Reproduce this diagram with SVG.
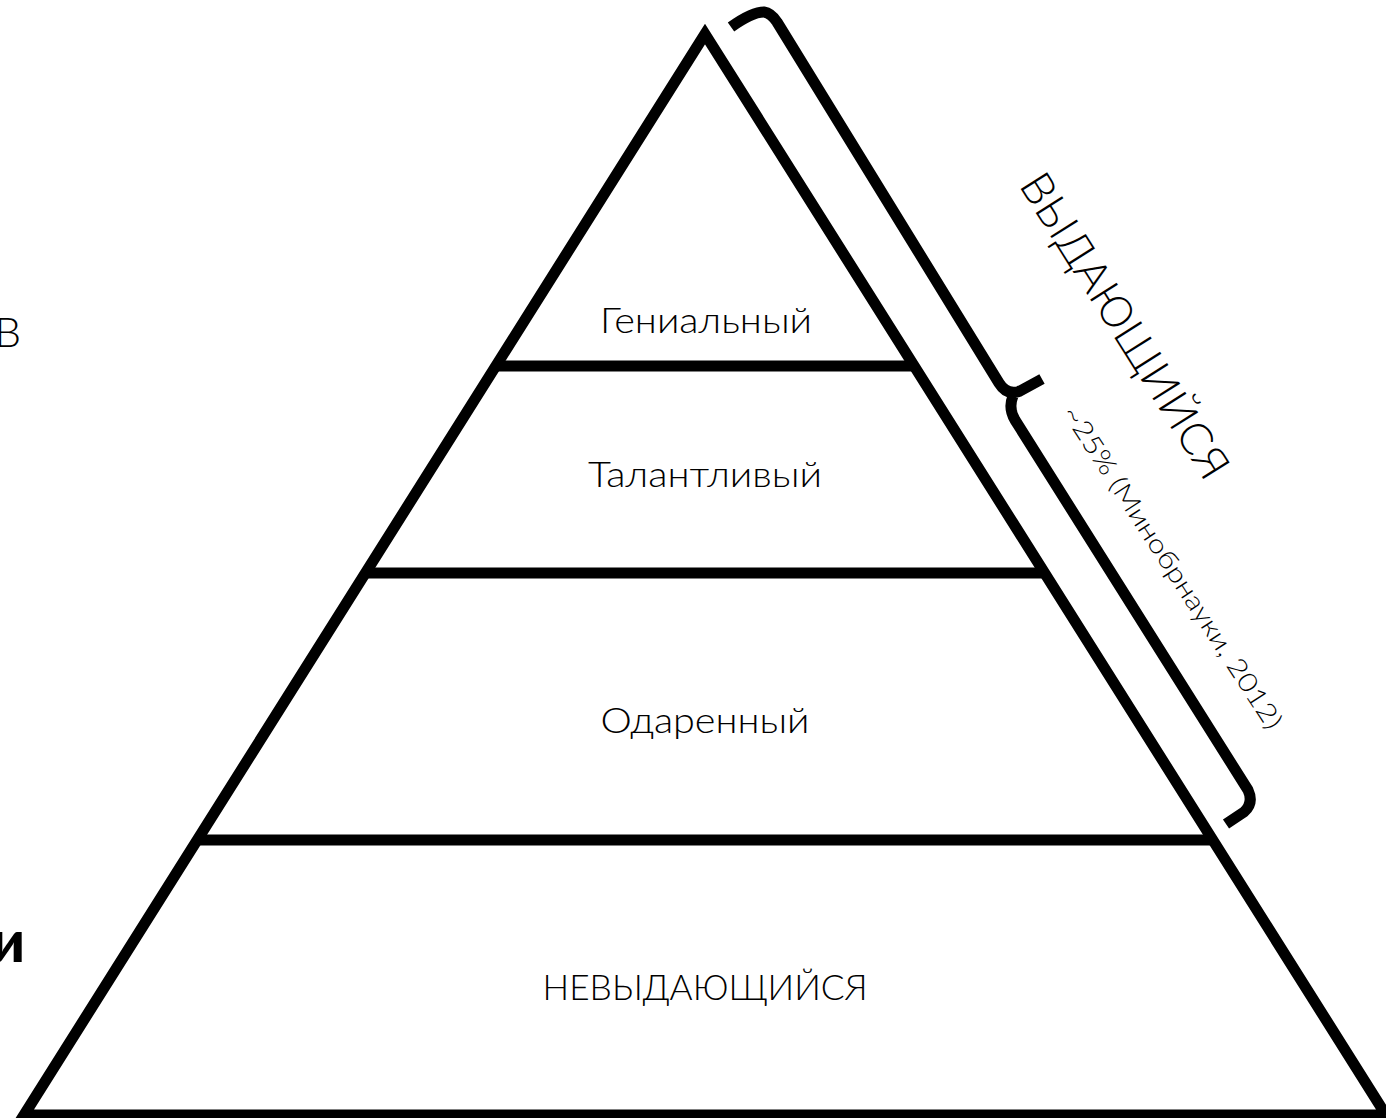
<svg xmlns="http://www.w3.org/2000/svg" width="1386" height="1118" viewBox="0 0 1386 1118">
<style>
.ln{fill:none;stroke:#000;stroke-width:11;stroke-linejoin:miter}
.br{fill:none;stroke:#000;stroke-width:11;stroke-linecap:butt;stroke-linejoin:round}
.lbl{font-family:Lato,"Noto Sans",sans-serif;font-weight:300;font-size:36px;fill:#000;text-anchor:middle}
</style>
<rect width="1386" height="1118" fill="#fff"/>
<g id="pyramid">
<polygon class="ln" points="705,34 24,1115 1386,1115"/>
<line class="ln" x1="495" y1="366" x2="915" y2="366"/>
<line class="ln" x1="365" y1="573" x2="1045" y2="573"/>
<line class="ln" x1="197" y1="840" x2="1213" y2="840"/>
</g>
<g id="level-genius"><text class="lbl" x="706" y="333" textLength="212" lengthAdjust="spacingAndGlyphs">Гениальный</text></g>
<g id="level-talented"><text class="lbl" x="705" y="487" textLength="234" lengthAdjust="spacingAndGlyphs">Талантливый</text></g>
<g id="level-gifted"><text class="lbl" x="705" y="733" textLength="209" lengthAdjust="spacingAndGlyphs">Одаренный</text></g>
<g id="level-ordinary"><text class="lbl" x="705" y="1000" textLength="325" lengthAdjust="spacingAndGlyphs">НЕВЫДАЮЩИЙСЯ</text></g>
<g id="connectors">
<path class="br" d="M731,27 Q752,12 764,12 Q771,13 777,22 L999,383 Q1007,396 1020,391 L1042,379"/>
<path class="br" d="M1013,396 Q1008,408 1015,420 L1248,790 Q1254,803 1244,812 L1226,824"/>
</g>
<g id="label-outstanding">
<text class="lbl" transform="translate(1112,334) rotate(57.8)" x="0" y="0" textLength="352" lengthAdjust="spacingAndGlyphs" style="font-size:44px">ВЫДАЮЩИЙСЯ</text>
</g>
<g id="label-source">
<text class="lbl" transform="translate(1165,572) rotate(57)" x="0" y="0" textLength="380" lengthAdjust="spacingAndGlyphs" style="font-size:26px">~25% (Минобрнауки, 2012)</text>
</g>
<g id="left-fragments">
<text x="21" y="347" style="font-family:Lato,sans-serif;font-weight:300;font-size:42px;text-anchor:end">В</text>
<text x="25" y="962" style="font-family:Lato,sans-serif;font-weight:900;font-size:58px;text-anchor:end">и</text>
</g>
</svg>
